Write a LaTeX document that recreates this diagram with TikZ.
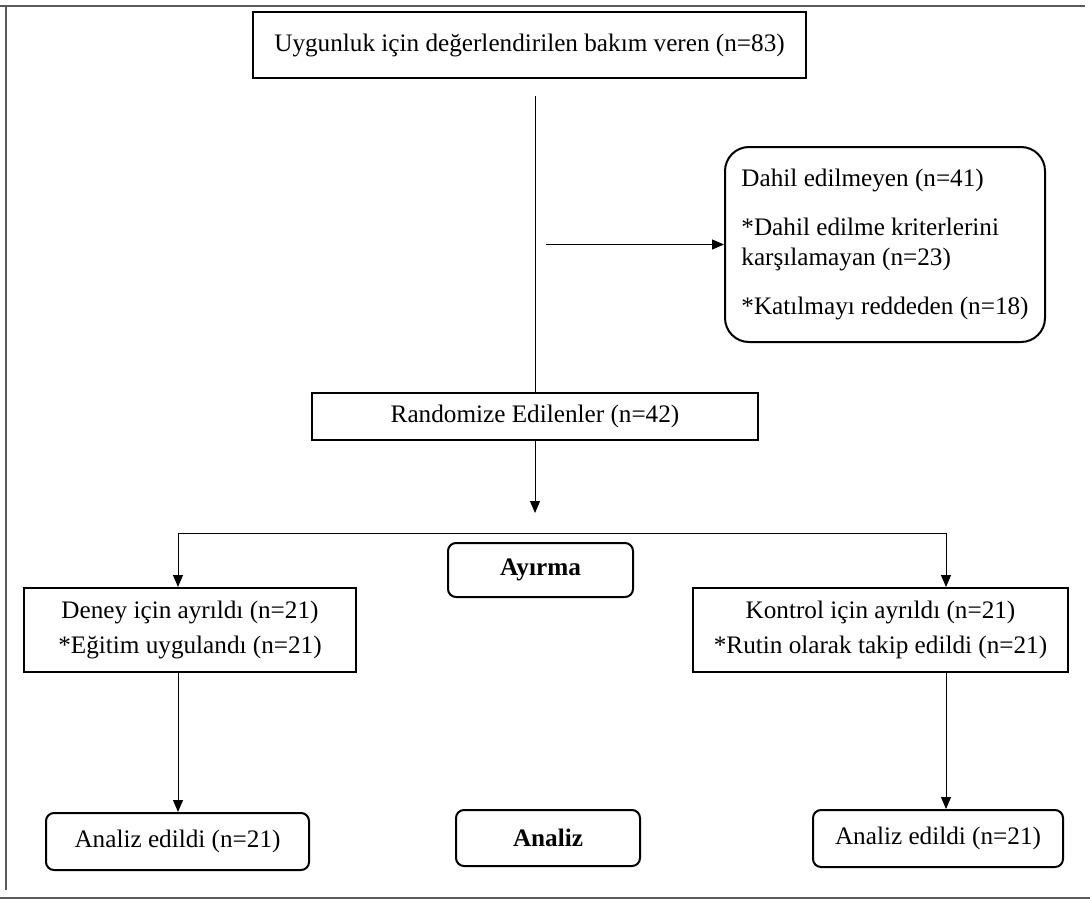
\documentclass[tikz,border=0pt]{standalone}
\usepackage{fontspec}
\setmainfont{Liberation Serif}
\usepackage{tikz}
\usetikzlibrary{arrows.meta,positioning,calc}
\definecolor{FrameGray}{HTML}{5A5A5A}

\begin{document}
\begin{tikzpicture}[x=0.5pt,y=-0.5pt,
  font=\fontsize{12.6}{15}\selectfont,
  sqbox/.style={draw, line width=1pt, inner sep=0pt, align=center},
  rbox/.style={draw, line width=1pt, inner sep=0pt, align=center, rounded corners=4pt},
  arr/.style={line width=0.5pt, -{Triangle[length=6pt,width=5pt]}},
  ln/.style={line width=0.5pt}]
\useasboundingbox (0,0) rectangle (1090,904);
% outer frame (top, left, bottom)
\draw[FrameGray, line width=1.4pt] (0,6) -- (1085,6);
\draw[FrameGray, line width=1.2pt] (6,6) -- (6,890);
\draw[FrameGray, line width=1.4pt] (0,898) -- (1090,898);
% boxes
\node[sqbox, minimum width=276.5pt, minimum height=33pt] (elig) at (529.5,45) {Uygunluk için değerlendirilen bakım veren (n=83)};
\node[draw, line width=1pt, rounded corners=12pt, minimum width=160pt, minimum height=97.5pt,
  inner sep=0pt, align=left] (excl) at (885,244.5)
  {Dahil edilmeyen (n=41)\\[9.5pt]*Dahil edilme kriterlerini\\karşılamayan (n=23)\\[9.5pt]*Katılmayı reddeden (n=18)};
\node[sqbox, minimum width=223pt, minimum height=23.5pt] (rand) at (535,416.5) {Randomize Edilenler (n=42)};
\node[rbox, minimum width=92.5pt, minimum height=27pt, font=\fontsize{12.6}{15}\selectfont\bfseries] (alloc) at (540.5,570) {Ayırma};
\node[sqbox, minimum width=166pt, minimum height=42pt] (deney) at (190,630) {Deney için ayrıldı (n=21)\\[2.5pt]*Eğitim uygulandı (n=21)};
\node[sqbox, minimum width=187.5pt, minimum height=42pt] (kontrol) at (880.5,630) {Kontrol için ayrıldı (n=21)\\[2.5pt]*Rutin olarak takip edildi (n=21)};
\node[rbox, minimum width=131.5pt, minimum height=28.5pt] (aleft) at (177.5,841.5) {Analiz edildi (n=21)};
\node[rbox, minimum width=92pt, minimum height=28pt, font=\fontsize{12.6}{15}\selectfont\bfseries] (analiz) at (548,838) {Analiz};
\node[rbox, minimum width=125pt, minimum height=28.5pt] (aright) at (938,838.5) {Analiz edildi (n=21)};
% connectors
\coordinate (split) at (rand.north |- excl.west);
\coordinate (rdown) at (535,513);
\coordinate (hl) at (178,533);
\coordinate (hr) at (946,533);
\draw[ln, shorten <=8.5pt] (rand.north |- elig.south) -- (rand.north);
\draw[arr, shorten <=5.5pt] (split) -- (excl.west);
\draw[arr] (rand.south) -- (rdown);
\draw[ln] (hl) -- (hr);
\draw[arr] (hl) -- (hl |- deney.north);
\draw[arr] (hr) -- (hr |- kontrol.north);
\draw[arr] (hl |- deney.south) -- (hl |- aleft.north);
\draw[arr] (hr |- kontrol.south) -- (hr |- aright.north);
\end{tikzpicture}
\end{document}
